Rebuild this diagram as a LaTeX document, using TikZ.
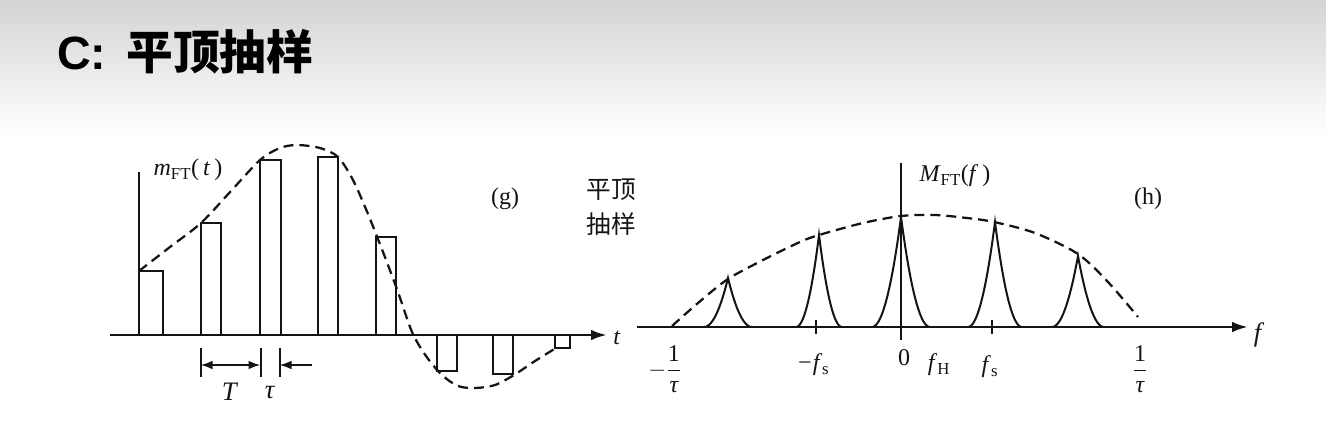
\documentclass[tikz,border=0pt]{standalone}
\usepackage{fontspec}
\setmainfont{Liberation Serif}
\newfontfamily\titlefont{Liberation Sans}
\newfontfamily\cjk{Noto Sans CJK SC}
\usepackage{amsmath}
\usetikzlibrary{arrows.meta}
\tikzset{>=latex}
\usepackage{xcolor}
\colorlet{mygray}{black!17}
\colorlet{myink}{black!92}
\tikzstyle{main axis}=[line width=2.1pt,myink,-{Latex[length=12pt,width=8pt]}]
\tikzstyle{pulse}=[line width=1.5pt,myink]
\tikzstyle{envelope}=[line width=1.7pt,myink,dash pattern=on 7.5pt off 4.5pt]
\tikzstyle{dim line}=[line width=1.5pt,myink]
\tikzstyle{lbl}=[inner sep=0,myink,font=\fontsize{18}{22}\selectfont]

\begin{document}
\begin{tikzpicture}[x=0.75pt,y=-0.75pt]
      \useasboundingbox (0,0) rectangle (1326,436);
      \fill[white] (0,0) rectangle (1326,436);
      \shade[top color=mygray,bottom color=white] (0,0) rectangle (1326,135);

      \def\ty{335} % height of t axis
      \def\fy{327} % height of f axis

        % TITLE
        \node[anchor=west,inner sep=0] (title) at (57,52)
            {\fontsize{35}{40}\selectfont{\titlefont\bfseries C:}\hspace{15pt}{\cjk\bfseries 平顶抽样}};

        % TIME DOMAIN (g)
        \draw[main axis] (110,\ty) -- (607,\ty);
        \draw[pulse] (139,\ty) -- (139,172);
        \foreach \x/\w/\h in {139/24/271,201/20/223,260/21/160,318/20/157,376/20/237,437/20/371,493/20/374,555/15/348}{
                \draw[pulse] (\x,\ty) -- (\x,\h) -- (\x+\w,\h) -- (\x+\w,\ty);
            }
        \draw[envelope] plot[smooth] coordinates {(139,271) (170,247) (201,223) (231,191) (260,160) (280,148)
            (297,145) (320,148) (338,157) (353,180) (368,214) (383,252) (398,292) (412,332) (426,356)
            (442,375) (458,386) (475,388) (495,385) (514,375) (535,361) (556,348)};

        % T AND TAU
        \coordinate (T-a) at (200.5,365);
        \coordinate (T-b) at (260.5,365);
        \coordinate (tau-b) at (279.5,365);
        \coordinate (tau-in) at (312,365);
        \foreach \c in {T-a,T-b,tau-b}{
                \draw[dim line] (\c) ++(0,-17) -- ++(0,29);
            }
        \draw[dim line,{Latex[length=9pt,width=6.5pt]}-{Latex[length=9pt,width=6.5pt]}] (T-a) -- (T-b);
        \draw[dim line,-{Latex[length=9pt,width=6.5pt]}] (tau-in) -- (tau-b);

        \node[lbl] (mt) at (188,170) {\textit{m}\textsubscript{FT}(\,\textit{t}\,)};
        \node[lbl] (g) at (505,199) {(g)};
        \node[lbl] (t) at (617,338) {\textit{t}};
        \node[lbl,font=\fontsize{20}{22}\selectfont] (T) at (230,392) {\textit{T}};
        \node[lbl,font=\fontsize{20}{22}\selectfont] (tau) at (270,393) {\textit{τ}};
        \node[inner sep=0,myink,align=center,font=\fontsize{18.5}{26}\selectfont\cjk] (flat) at (611,207) {平顶\\抽样};

        % FREQUENCY DOMAIN (h)
        \draw[main axis] (637,\fy) -- (1248,\fy);
        \draw[pulse] (901,163) -- (901,340);
        \foreach \x in {816,992}{
                \draw[pulse] (\x,320) -- (\x,334);
            }
        \foreach \c/\w/\h in {728/24/278,819/23/235,901/29/217,995/27/222,1078/26/256}{
                \draw[pulse] plot[domain=-1:1,samples=61] ({\c+\w*\x},{\fy-(\fy-\h)*(1-abs(\x))^2});
            }
        \draw[envelope] plot[smooth] coordinates {(672,326) (698,303) (728,279) (765,259) (800,242) (819,235)
            (863,223) (901,216) (935,215) (967,218) (994,222) (1035,233) (1078,254) (1108,282) (1138,317)};

        \node[lbl] (Mf) at (955,176) {\textit{M}\textsubscript{FT}(\textit{f}\,)};
        \node[lbl] (h) at (1148,199) {(h)};
        \node[lbl,font=\fontsize{20}{22}\selectfont] (f) at (1259,335) {\textit{f}};
        \node[lbl] (mtau) at (665,369) {\(-\dfrac{\mbox{1}}{\mbox{\itshape τ}}\)};
        \node[lbl] (mfs) at (813,365) {\textit{−f}\textsubscript{s}};
        \node[lbl] (zero) at (904,358) {0};
        \node[lbl] (fH) at (939,365) {\textit{f}\textsubscript{H}};
        \node[lbl] (fs) at (990,367) {\textit{f}\textsubscript{s}};
        \node[lbl] (ptau) at (1140,369) {\(\dfrac{\mbox{1}}{\mbox{\itshape τ}}\)};
    \end{tikzpicture}
\end{document}
